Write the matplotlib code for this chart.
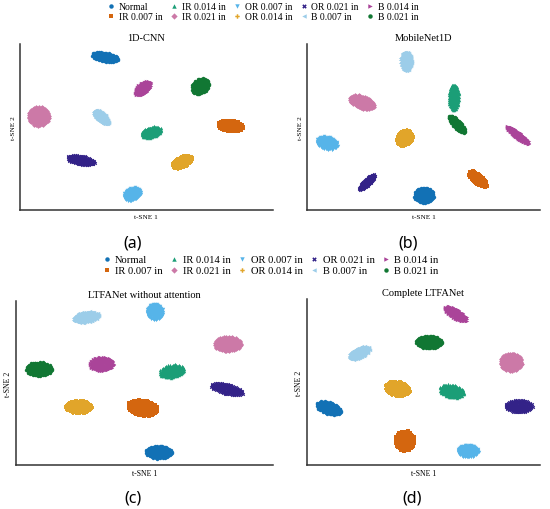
import numpy as np
import matplotlib
matplotlib.use("Agg")
import matplotlib.pyplot as plt
from matplotlib.lines import Line2D

plt.rcParams['font.family'] = ['Liberation Serif', 'DejaVu Serif']

classes = ["Normal", "IR 0.007 in", "IR 0.014 in", "IR 0.021 in", "OR 0.007 in",
           "OR 0.014 in", "OR 0.021 in", "B 0.007 in", "B 0.014 in", "B 0.021 in"]
colors = ["#1271b5", "#d4660f", "#1b9e77", "#cc79a7", "#56b4e9",
          "#e1a52a", "#332288", "#9ccde9", "#aa4499", "#117733"]
markers = ["o", "s", "^", "D", "v", "P", "X", "<", ">", "o"]

titles = ["1D-CNN", "MobileNet1D", "LTFANet without attention", "Complete LTFANet"]
letters = ["(a)", "(b)", "(c)", "(d)"]

# cluster centre x, centre y, width, height, slope (t-SNE units, 0-100), per class order above
a_cx = [33.7, 83.3, 52.0, 7.5, 44.4, 64.3, 24.2, 32.1, 48.8, 71.4]
a_cy = [92.2, 50.6, 47.0, 56.6, 9.6, 28.9, 30.1, 56.0, 73.5, 74.7]
a_w = [10.7, 10.0, 8.0, 8.4, 7.0, 8.0, 11.0, 6.5, 6.5, 6.9]
a_h = [5.5, 6.5, 6.5, 11.5, 8.0, 7.0, 5.5, 7.0, 7.5, 9.5]
a_s = [-0.25, -0.1, 0.3, 0.0, 0.3, 0.5, -0.25, -0.9, 0.7, 0.4]

b_cx = [50.2, 73.4, 63.1, 23.6, 8.6, 42.1, 25.8, 42.5, 90.6, 64.4]
b_cy = [9.0, 18.7, 68.0, 65.0, 40.4, 43.4, 16.9, 89.8, 45.2, 51.8]
b_w = [8.6, 7.7, 4.5, 10.7, 9.4, 7.0, 7.0, 5.2, 10.0, 7.3]
b_h = [9.6, 6.5, 16.0, 7.5, 8.0, 9.5, 5.2, 12.0, 5.0, 6.5]
b_s = [0.0, -0.9, 0.0, -0.4, -0.2, 0.3, 1.15, 0.0, -1.0, -1.2]

c_cx = [55.6, 49.4, 60.7, 82.5, 54.1, 24.5, 82.1, 27.2, 33.5, 9.0]
c_cy = [7.9, 34.8, 57.3, 73.8, 93.3, 35.4, 46.3, 90.2, 61.6, 58.5]
c_w = [10.5, 11.7, 9.7, 10.5, 6.6, 10.5, 12.8, 10.5, 9.7, 10.5]
c_h = [8.0, 9.5, 8.0, 9.0, 10.0, 8.0, 6.5, 7.0, 9.0, 8.5]
c_s = [0.0, -0.2, 0.2, 0.0, 0.0, 0.0, -0.35, 0.2, 0.0, 0.0]

d_cx = [9.4, 42.1, 62.2, 87.6, 69.1, 39.0, 91.0, 22.3, 64.0, 52.4]
d_cy = [34.3, 14.5, 44.6, 62.0, 8.4, 45.8, 35.5, 67.5, 91.0, 74.1]
d_w = [10.7, 8.2, 10.7, 9.4, 9.4, 10.7, 12.0, 9.4, 9.9, 11.6]
d_h = [7.5, 12.0, 8.0, 10.8, 7.8, 9.0, 7.8, 7.0, 6.5, 7.8]
d_s = [-0.35, 0.0, -0.2, 0.0, 0.0, -0.2, 0.0, 0.5, -0.7, 0.0]

panels = [(a_cx, a_cy, a_w, a_h, a_s), (b_cx, b_cy, b_w, b_h, b_s),
          (c_cx, c_cy, c_w, c_h, c_s), (d_cx, d_cy, d_w, d_h, d_s)]

# axes rectangles in figure fraction
rects = [[0.036, 0.586, 0.460, 0.3255], [0.558, 0.586, 0.4236, 0.3255],
         [0.029, 0.0863, 0.467, 0.3216], [0.558, 0.0863, 0.4236, 0.3255]]
label_sizes = [5.2, 5.2, 5.6, 5.6]
letter_pos = [(0.242, 0.5235), (0.742, 0.5235), (0.242, 0.0216), (0.750, 0.0216)]

N_PTS = 160
golden = np.pi * (3 - np.sqrt(5))
idx = np.arange(N_PTS)
unit_r = np.sqrt((idx + 0.5) / N_PTS)
unit_t = idx * golden
unit_u = unit_r * np.cos(unit_t)
unit_v = unit_r * np.sin(unit_t)

fig = plt.figure(figsize=(5.5, 5.1), dpi=100)

for p, (cx, cy, w, h, s) in enumerate(panels):
    ax = fig.add_axes(rects[p])
    for k in range(len(classes)):
        xs = cx[k] + w[k] / 2 * unit_u
        ys = cy[k] + h[k] / 2 * unit_v + s[k] * (w[k] / 2 * unit_u)
        ax.scatter(xs, ys, s=6, c=colors[k], marker=markers[k], linewidths=0)
    ax.set_xlim(0, 100)
    ax.set_ylim(0, 100)
    ax.set_xticks([])
    ax.set_yticks([])
    for sp in ["top", "right"]:
        ax.spines[sp].set_visible(False)
    for sp in ["left", "bottom"]:
        ax.spines[sp].set_color("#333333")
        ax.spines[sp].set_linewidth(1.1)
    ax.set_title(titles[p], fontsize=7.5, pad=3)
    ax.set_xlabel("t-SNE 1", fontsize=label_sizes[p], labelpad=3)
    ax.set_ylabel("t-SNE 2", fontsize=label_sizes[p], labelpad=3)
    fig.text(letter_pos[p][0], letter_pos[p][1], letters[p], fontsize=11.5,
             family=["Noto Sans", "DejaVu Sans"], ha="center", va="center")

handles = [Line2D([], [], linestyle="none", marker=markers[k], color=colors[k],
                  markersize=3.2, markeredgewidth=0) for k in range(len(classes))]

fig.legend(handles, classes, ncol=5, loc="center", bbox_to_anchor=(0.477, 0.975),
           frameon=False, fontsize=6.9, handletextpad=0.3, columnspacing=0.7,
           labelspacing=0.15, handlelength=1.0, borderpad=0.1)
fig.legend(handles, classes, ncol=5, loc="center", bbox_to_anchor=(0.491, 0.478),
           frameon=False, fontsize=7.6, handletextpad=0.3, columnspacing=0.6,
           labelspacing=0.15, handlelength=1.0, borderpad=0.1)

fig.savefig("out.png", dpi=100)
